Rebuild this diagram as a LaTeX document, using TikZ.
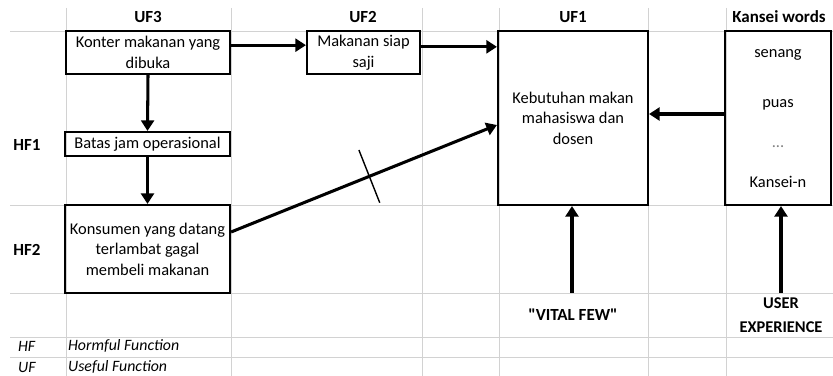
\documentclass[tikz,border=0pt]{standalone}
\usepackage{fontspec}
\setmainfont{Carlito}[Ligatures=TeXOff]
\usetikzlibrary{arrows.meta,calc}

\begin{document}
\begin{tikzpicture}[x=0.03cm, y=-0.03cm,
	kotak/.style={draw, line width=1.8pt, inner sep=0pt, align=center, font=\fontsize{14}{17.5}\selectfont},
	judul/.style={font=\fontsize{14.5}{17}\selectfont\bfseries},
	isi/.style={font=\fontsize{14}{17}\selectfont},
	panah/.style={line width=2.6pt, -{Triangle[length=9pt, width=11pt]}},
	garis/.style={gray!35, line width=0.6pt},
	ket/.style={font=\fontsize{13.5}{16}\selectfont\itshape, anchor=west}]
	\useasboundingbox (0,0) rectangle (833,376); % Rand um Grafik
	
	% Tabellenlinien
	\foreach \gx in {66,231,422,499,648,726}
		\draw[garis] (\gx,8) -- (\gx,376);
	\foreach \gy in {31,205,293,337,357}
		\draw[garis] (10,\gy) -- (833,\gy);
	
	\node[judul] (uf3) at (148,17) {UF3}; % Spaltenkoepfe
	\node[judul] (uf2) at (363,17) {UF2};
	\node[judul] (uf1) at (573,17) {UF1};
	\node[judul] (kw) at (779,17) {Kansei words};
	
	\node[judul] (hf1) at (27,145) {HF1};
	\node[judul] (hf2) at (27,250) {HF2};
	
	% Kaesten
	\node[kotak, minimum width=4.92cm, minimum height=1.29cm] (konter) at (148,52.5) {Konter makanan yang\\dibuka};
	\node[kotak, minimum width=4.95cm, minimum height=0.72cm] (batas) at (147.5,144) {Batas jam operasional};
	\node[kotak, minimum width=4.95cm, minimum height=2.64cm] (konsumen) at (147.5,249) {Konsumen yang datang\\terlambat gagal\\membeli makanan};
	\node[kotak, minimum width=3.39cm, minimum height=1.29cm] (siap) at (363.5,52.5) {Makanan siap\\saji};
	\node[kotak, minimum width=4.5cm, minimum height=5.22cm] (kebutuhan) at (573,118) {Kebutuhan makan\\mahasiswa dan\\dosen};
	\node[kotak, minimum width=3.18cm, minimum height=5.22cm] (kansei) at (778,118) {};
	
	\node[isi] (senang) at (778,55) {senang};
	\node[isi] (puas) at (778,105) {puas};
	\node[isi, gray] (titik) at (778,147) {...};
	\node[isi] (kanseiN) at (778,182) {Kansei-n};
	
	\node[judul] (vital) at (573,315) {"VITAL FEW"};
	\node[judul, align=center, font=\fontsize{14}{20}\selectfont\bfseries] (user) at (781,315) {USER\\EXPERIENCE};
	\coordinate (vf) at (572,293);
	\coordinate (ue) at (781,293);
	
	% Pfeile
	\draw[panah] ([yshift=0.22cm]konter.east) -- ([yshift=0.22cm]siap.west);
	\draw[panah] ([yshift=0.17cm]siap.east) coordinate (s) -- (s -| kebutuhan.west);
	\draw[panah] (konter.south) -- (batas.north);
	\draw[panah] (batas.south) -- (konsumen.north);
	\draw[panah] ([yshift=0.51cm]konsumen.east) -- coordinate[pos=0.52] (putus) ([yshift=-0.21cm]kebutuhan.west);
	\draw[line width=1.2pt] ($(putus)!0.85cm!87:(kebutuhan.west)$) -- ($(putus)!0.85cm!-93:(kebutuhan.west)$); % Strich
	\draw[panah] ([yshift=0.12cm]kansei.west) -- ([yshift=0.12cm]kebutuhan.east);
	\draw[panah] (vf) -- (vf |- kebutuhan.south);
	\draw[panah] (ue) -- (ue |- kansei.south);
	
	% Legende
	\node[ket] (hf) at (14,346) {HF};
	\node[ket] (hfket) at (64,346) {Hormful Function};
	\node[ket] (uf) at (14,367) {UF};
	\node[ket] (ufket) at (64,367) {Useful Function};
\end{tikzpicture}
\end{document}
